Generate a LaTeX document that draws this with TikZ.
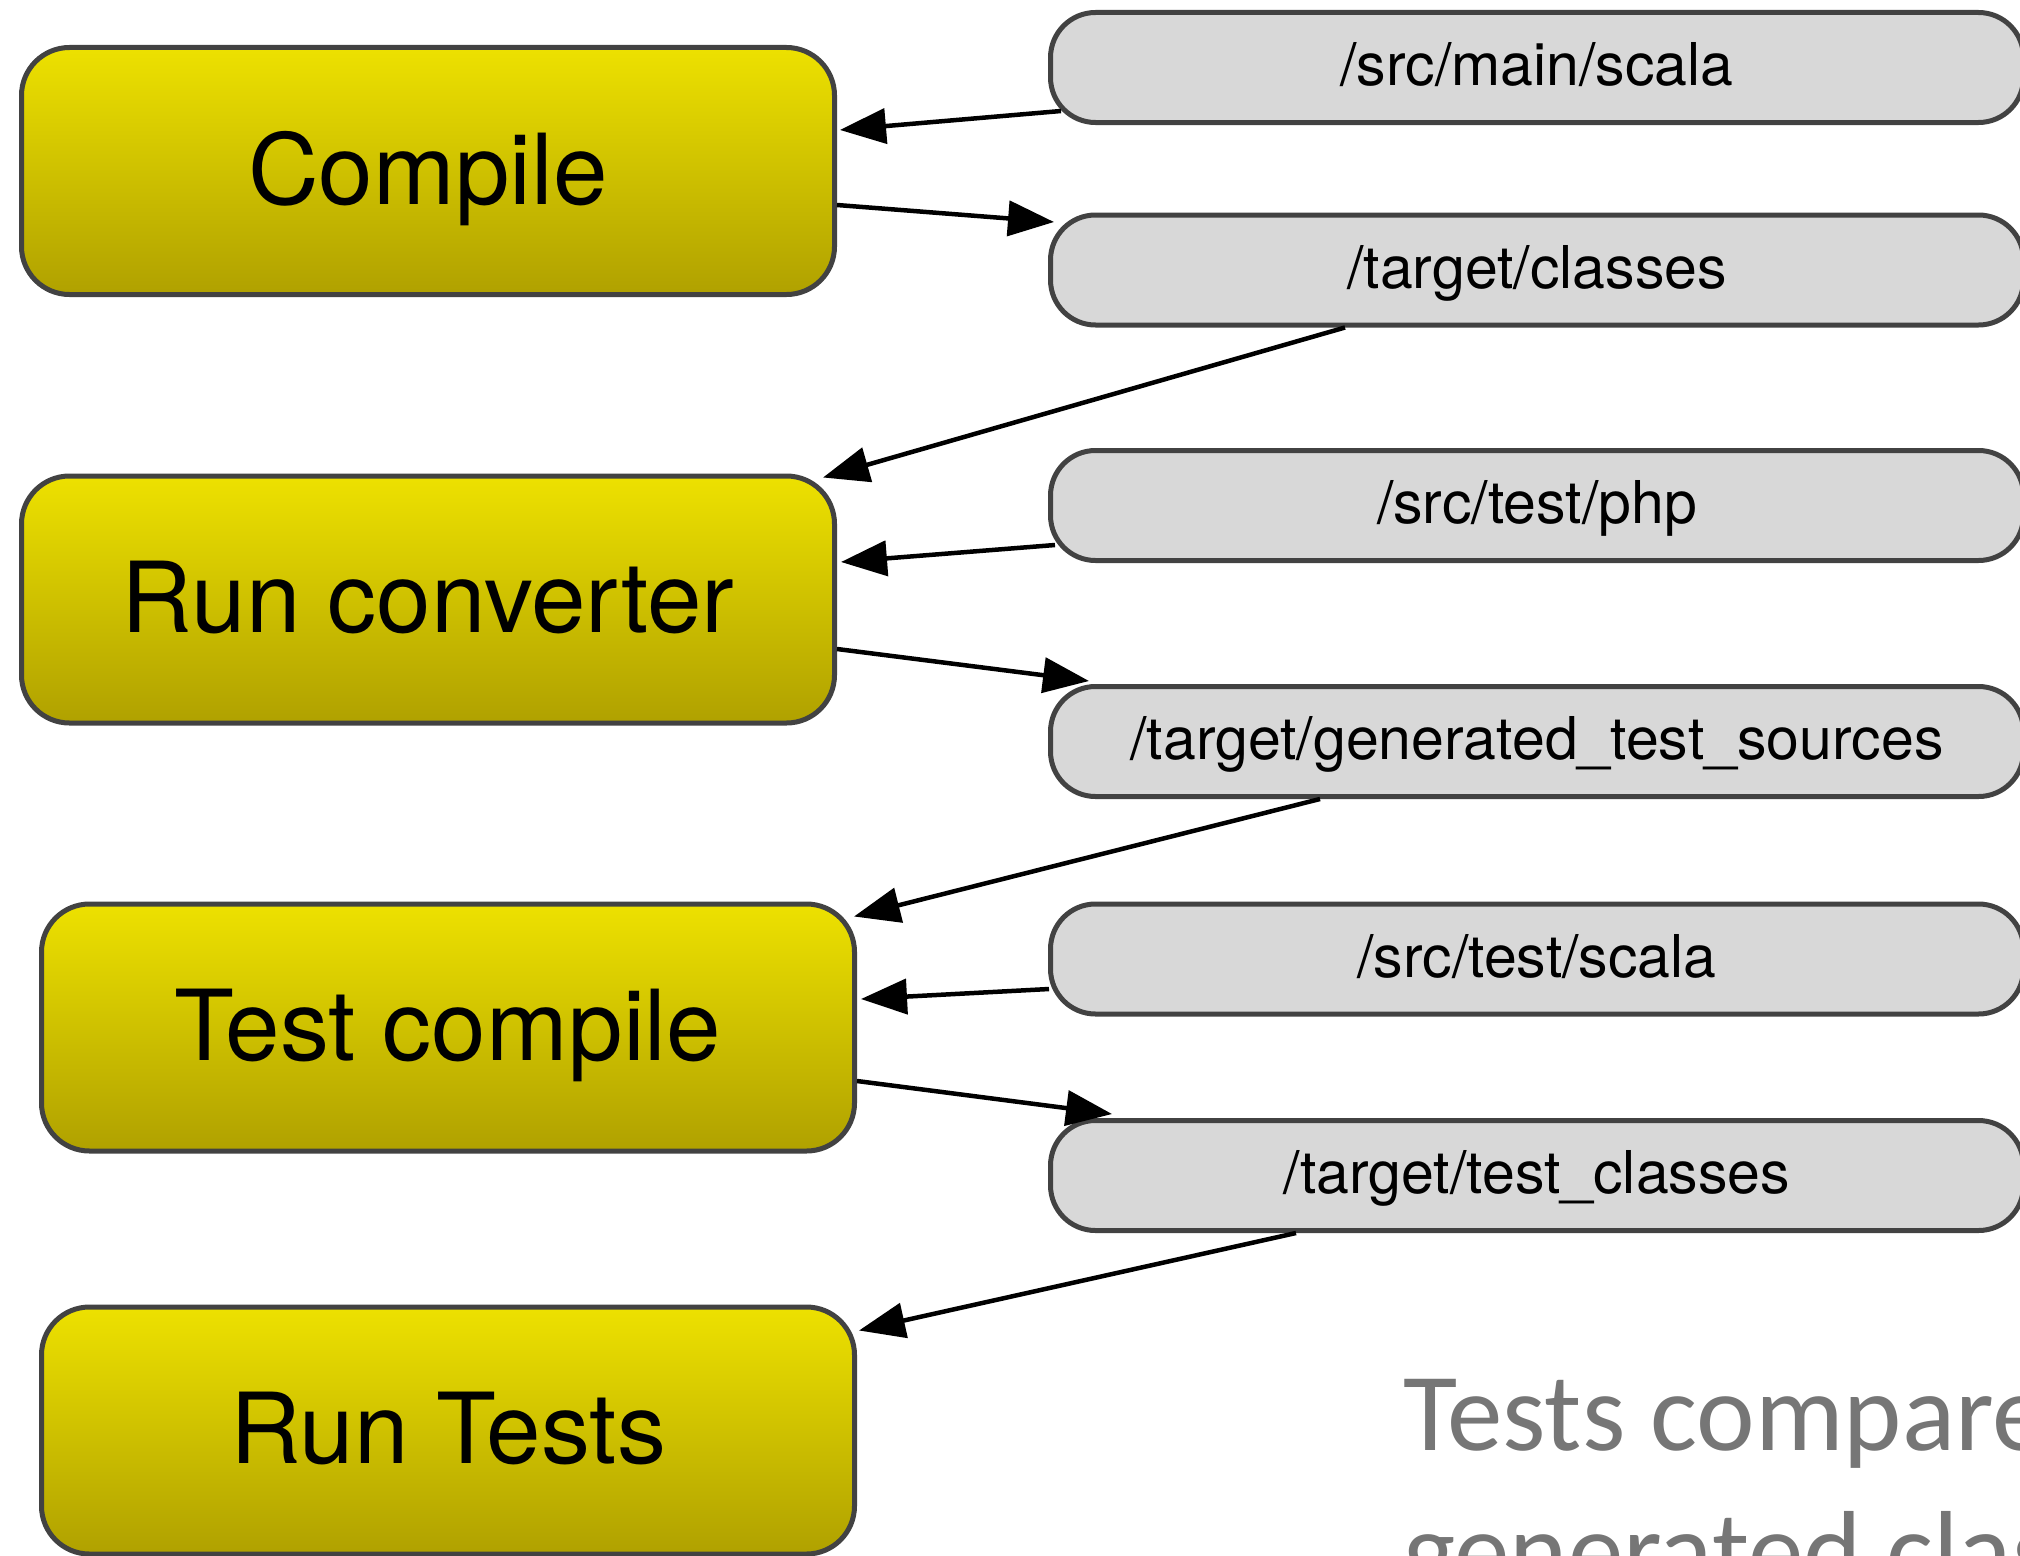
\documentclass[tikz,border=0pt]{standalone}
\usepackage{fontspec}
\setmainfont{TeX Gyre Heros}
\newfontfamily\notefont{Carlito}
\usetikzlibrary{arrows.meta,calc}

\definecolor{stepTop}{RGB}{237,225,0}
\definecolor{stepBot}{RGB}{176,161,0}
\definecolor{dirFill}{RGB}{216,216,216}
\definecolor{edgeGray}{RGB}{66,66,66}
\definecolor{noteGray}{RGB}{118,118,118}

\begin{document}
\begin{tikzpicture}[x=1pt,y=-1pt,
  stepbox/.style={draw=edgeGray, line width=5pt, rounded corners=48pt,
    top color=stepTop, bottom color=stepBot,
    minimum width=813pt, minimum height=247pt, inner sep=0pt,
    font=\fontsize{98}{110}\selectfont, text height=66pt, text depth=0pt},
  dirbox/.style={draw=edgeGray, fill=dirFill, line width=5pt, rounded corners=45pt,
    minimum width=973pt, minimum height=110pt, inner sep=0pt,
    font=\fontsize{59}{70}\selectfont, text height=36pt, text depth=0pt},
  flow/.style={line width=4.5pt, -{Triangle[length=46pt,width=35pt]}},
  note/.style={anchor=base west, inner sep=0pt, text=noteGray,
    font=\notefont\fontsize{111}{137}\selectfont},
]
\useasboundingbox (0,0) rectangle (2020,1555);
\clip (0,0) rectangle (2020,1555);

% build steps
\node[stepbox] (compile) at (428,171)    {Compile};
\node[stepbox] (runconv) at (428,599.5)  {Run converter};
\node[stepbox] (testc)   at (448,1027.5) {Test compile};
\node[stepbox] (runt)    at (448,1430.5) {Run Tests};

% directories
\node[dirbox] (srcmain) at (1537,67.5)   {/src/main/scala};
\node[dirbox] (tcls)    at (1537,270)    {/target/classes};
\node[dirbox] (srcphp)  at (1537,505.5)  {/src/test/php};
\node[dirbox] (gen)     at (1537,741.5)  {/target/generated\_test\_sources};
\node[dirbox] (srcts)   at (1537,959)    {/src/test/scala};
\node[dirbox] (tcl)     at (1537,1175.5) {/target/test\_classes};

% data flow
\draw[flow] ($(srcmain.south west)+(13,-14)$) -- ($(compile.east)+(3,-41)$);
\draw[flow] ($(compile.east)+(0,34)$) -- ($(tcls.north west)+(6,9.5)$);
\draw[flow] ($(tcls.south)+(-192,0)$) -- ($(runconv.north east)+(-14,4)$);
\draw[flow] ($(srcphp.south west)+(7,-18)$) -- ($(runconv.east)+(4,-37.5)$);
\draw[flow] ($(runconv.east)+(0,49.5)$) -- ($(gen.north west)+(41,-3)$);
\draw[flow] ($(gen.south)+(-217,0)$) -- ($(testc.north east)+(-3,15)$);
\draw[flow] ($(srcts.south west)+(1,-27.5)$) -- ($(testc.east)+(4,-28.5)$);
\draw[flow] ($(testc.east)+(0,53.5)$) -- ($(tcl.north west)+(64,-4)$);
\draw[flow] ($(tcl.south)+(-241,0)$) -- ($(runt.north east)+(2,26)$);

% remark
\node[note] (note1) at (1403,1450) {Tests compare};
\node[note] (note2) at (1403,1588) {generated classes};
\end{tikzpicture}
\end{document}
